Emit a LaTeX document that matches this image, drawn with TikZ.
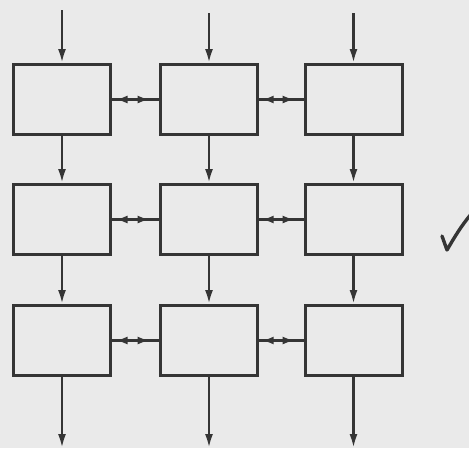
\documentclass[tikz,border=0pt]{standalone}
\usetikzlibrary{arrows.meta,decorations.markings}
\definecolor{ink}{HTML}{353535}
\definecolor{paper}{HTML}{EAEAEA}
\begin{document}
\begin{tikzpicture}[x=1pt,y=-1pt,
  cell/.style={draw=ink,line width=3pt,minimum width=97pt,minimum height=70pt,inner sep=0pt},
  flow/.style={draw=ink,line width=2.4pt,-{Latex[length=14pt,width=8pt]}},
  link/.style={draw=ink,line width=3pt,postaction={decorate},
    decoration={markings,
      mark=at position 0.33 with {\arrow{Latex[reversed,length=12pt,width=8pt]}},
      mark=at position 0.80 with {\arrow{Latex[length=12pt,width=8pt]}}}}]
\fill[paper] (0,0) rectangle (469,448);
\useasboundingbox (0,0) rectangle (469,448);
% boxes
\node[cell] (a1) at (62,99.5) {};
\node[cell] (a2) at (209,99.5) {};
\node[cell] (a3) at (353.5,99.5) {};
\node[cell] (b1) at (62,219.5) {};
\node[cell] (b2) at (209,219.5) {};
\node[cell] (b3) at (353.5,219.5) {};
\node[cell] (c1) at (62,340.5) {};
\node[cell] (c2) at (209,340.5) {};
\node[cell] (c3) at (353.5,340.5) {};
% inputs and outputs
\coordinate (i1) at (62,10);
\coordinate (i2) at (209,13);
\coordinate (i3) at (353.5,13);
\coordinate (o1) at (62,448);
\coordinate (o2) at (209,448);
\coordinate (o3) at (353.5,448);
\foreach \k in {1,2,3}{
  \draw[flow] (i\k) -- (a\k.north);
  \draw[flow] (a\k.south) -- (b\k.north);
  \draw[flow] (b\k.south) -- (c\k.north);
  \draw[flow] (c\k.south) -- (o\k);
}
% lateral links
\foreach \r in {a,b,c}{
  \draw[link] (\r1.east) -- (\r2.west);
  \draw[link] (\r2.east) -- (\r3.west);
}
% check mark
\draw[ink,line width=3.4pt,line cap=round,line join=round]
  (442,236) -- (447,250) .. controls (454,238) and (461,226) .. (472,213);
\end{tikzpicture}
\end{document}
